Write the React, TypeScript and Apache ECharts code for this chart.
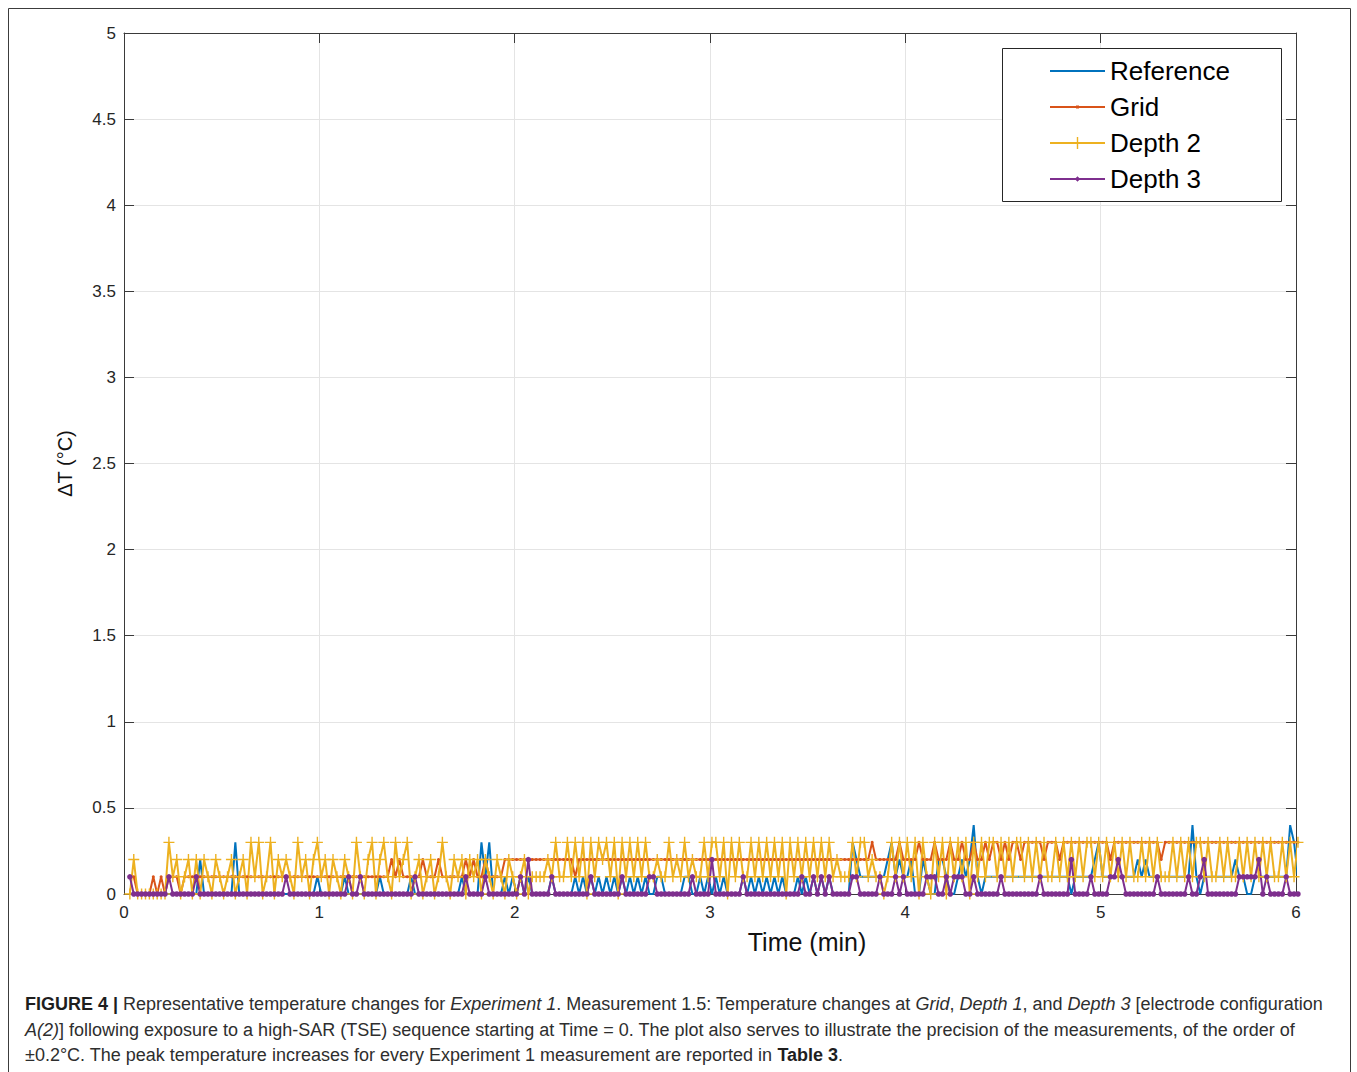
import React, { useEffect, useRef } from "react";
import * as echarts from "echarts";

// Sampling grid of the recording (minutes)
const SAMPLE_START_MIN = 0.03;
const SAMPLE_STEP_MIN = 0.02;

// ΔT readings in tenths of °C, one line per minute (50 samples each)
const referenceTenths = [
  0,0,0,0,0,0,0,0,0,0, 0,0,0,0,0,0,0,0,2,0, 0,0,0,0,0,0,0,3,0,0, 0,0,0,0,0,0,0,0,0,0, 0,0,0,0,0,0,0,0,1,0,
  0,0,0,0,0,1,0,0,0,0, 0,0,0,0,1,0,0,0,0,0, 0,0,1,0,0,0,0,0,0,0, 0,0,0,0,0,1,0,0,0,0, 3,1,3,0,0,0,1,0,1,0,
  1,0,1,0,0,0,0,0,1,0, 0,0,0,0,1,0,1,0,1,0, 1,0,1,0,1,0,1,0,1,0, 1,0,1,0,0,1,1,0,0,0, 0,0,1,1,0,0,1,0,1,0,
  1,0,1,0,0,0,0,1,0,1, 0,1,0,1,0,1,0,1,0,0, 0,1,0,1,0,1,0,1,0,1, 0,0,0,0,0,3,2,1,1,1, 1,1,1,1,2,3,1,2,1,1,
  2,0,0,2,1,0,0,2,2,1, 0,0,1,2,1,2,4,1,0,1, 1,1,1,1,1,1,1,1,1,1, 1,1,1,1,1,1,1,1,1,1, 1,0,1,1,1,1,1,2,3,1,
  1,1,1,1,1,1,1,1,2,1, 2,1,1,1,1,1,1,1,1,1, 1,1,4,1,0,1,1,1,1,1, 1,1,1,2,1,1,0,0,1,1, 1,1,1,1,1,1,1,4,3,1,
];

const gridTenths = [
  1,1,0,0,0,0,1,0,1,0, 1,1,1,0,1,1,1,1,1,1, 1,1,1,1,1,1,1,1,1,1, 1,1,1,1,1,1,1,1,1,1, 1,1,1,1,1,1,1,1,1,1,
  1,1,1,1,1,1,1,1,1,1, 1,1,1,1,1,1,1,2,1,2, 1,1,1,1,1,2,1,1,1,2, 1,1,1,1,1,1,2,1,2,1, 1,2,1,1,1,1,2,2,2,2,
  2,2,2,2,2,2,2,2,2,2, 2,2,2,2,1,2,2,2,2,2, 2,2,2,2,2,2,2,2,2,2, 2,2,2,2,2,2,2,2,2,2, 2,2,2,2,2,2,2,2,2,2,
  2,2,2,2,2,2,2,2,2,2, 2,2,2,2,2,2,2,2,2,2, 2,2,2,2,2,2,2,2,2,2, 2,2,2,2,2,2,2,2,2,2, 3,2,2,2,2,2,2,3,2,2,
  2,2,3,2,2,2,3,2,2,2, 3,2,2,3,2,2,3,2,2,3, 2,3,3,2,3,2,3,3,2,3, 3,3,3,3,2,3,3,3,2,3, 3,3,3,3,3,3,3,3,3,3,
  3,2,3,3,3,3,3,3,3,3, 3,3,3,3,2,3,3,3,3,3, 3,3,3,3,3,3,3,3,3,3, 3,3,3,3,3,3,3,3,3,3, 3,3,3,3,3,3,3,3,3,3,
];

const depth2Tenths = [
  0,2,0,0,0,0,0,0,0,0, 3,1,2,0,1,2,0,2,0,2, 1,0,2,1,0,1,2,0,1,2, 0,3,1,3,0,1,3,0,2,1, 2,1,0,3,1,2,0,2,3,1,
  2,0,2,1,0,2,1,0,3,1, 0,2,3,0,2,3,1,0,3,1, 2,3,0,1,2,0,1,2,0,1, 3,1,0,2,1,2,0,2,1,2, 0,2,1,0,2,1,0,2,1,0,
  1,2,0,1,1,1,1,2,1,3, 1,1,3,1,3,1,3,0,3,1, 3,2,3,1,3,0,3,1,3,1, 3,1,3,1,1,2,1,1,3,1, 2,1,3,1,2,1,1,3,1,3,
  3,1,3,0,3,1,3,1,1,3, 1,3,1,3,1,3,1,3,0,3, 1,3,1,3,1,3,1,3,1,3, 1,2,1,1,1,3,1,3,3,1, 2,1,1,0,1,3,1,3,1,3,
  1,3,0,3,1,0,3,1,3,0, 3,1,3,1,3,0,3,1,3,1, 3,3,1,3,1,3,1,3,3,1, 3,1,3,1,3,1,1,3,1,3, 1,3,1,3,1,3,3,1,3,1,
  3,1,3,1,3,1,3,1,1,3, 1,3,1,3,1,1,1,3,1,3, 1,3,1,3,3,1,3,1,1,3, 1,3,1,1,3,1,3,1,3,1, 3,1,3,1,1,3,1,3,1,3,
];

const depth3Tenths = [
  1,0,0,0,0,0,0,0,0,0, 1,0,0,0,0,0,0,1,0,0, 0,0,0,0,0,0,0,0,0,0, 0,0,0,0,0,0,0,0,0,0, 1,0,0,0,0,0,0,0,0,0,
  0,0,0,0,0,0,1,0,0,1, 0,0,0,0,0,0,0,0,0,0, 0,0,0,1,0,0,0,0,0,0, 0,0,0,0,0,0,1,0,0,0, 0,1,0,0,0,0,0,0,0,0,
  1,0,2,0,0,0,0,0,1,0, 0,0,0,0,0,0,0,0,1,0, 0,0,0,0,0,0,1,0,0,0, 0,0,0,1,1,0,0,0,0,0, 0,0,0,0,1,0,0,0,0,2,
  0,0,0,0,0,0,0,1,0,0, 0,0,0,0,0,0,0,0,0,0, 0,0,1,0,0,1,0,1,0,1, 0,0,0,0,0,1,1,0,0,0, 0,0,1,0,0,0,1,0,1,0,
  0,0,0,0,1,1,1,0,0,1, 0,1,1,1,0,0,1,0,0,0, 0,0,0,1,0,0,0,0,0,0, 0,0,0,1,0,0,0,0,0,0, 0,2,0,0,0,0,1,0,0,0,
  0,1,1,2,1,0,0,0,0,0, 0,0,0,1,0,0,0,0,0,0, 0,1,0,0,1,2,0,0,0,0, 0,0,0,0,1,1,1,1,1,2, 0,1,0,0,0,0,1,0,0,0,
];

const seriesNames = ["Reference", "Grid", "Depth 2", "Depth 3"];
const seriesColors = ["#0072BD", "#D95319", "#EDB120", "#7E2F8E"];

const xAxisMin = 0;
const xAxisMax = 6;
const xAxisStep = 1;
const yAxisMin = 0;
const yAxisMax = 5;
const yAxisStep = 0.5;

const captionLines = [
  "{b|FIGURE 4 |} Representative temperature changes for {i|Experiment 1}. Measurement 1.5: Temperature changes at {i|Grid}, {i|Depth 1}, and {i|Depth 3} [electrode configuration",
  "{i|A(2)}] following exposure to a high-SAR (TSE) sequence starting at Time = 0. The plot also serves to illustrate the precision of the measurements, of the order of",
  "±0.2°C. The peak temperature increases for every Experiment 1 measurement are reported in {b|Table 3}.",
];

const FONT = '"Liberation Sans", Arial, Helvetica, sans-serif';
const AXIS_COLOR = "#3a3a3a";

function toPoints(tenths: number[]) {
  return tenths.map((v, i) => [
    +(SAMPLE_START_MIN + i * SAMPLE_STEP_MIN).toFixed(2),
    v / 10,
  ]);
}

export default function App() {
  const ref = useRef<HTMLDivElement>(null);

  useEffect(() => {
    if (!ref.current) return;
    const chart = echarts.init(ref.current, undefined, { renderer: "svg" });

    const lineW = 2;
    const capSize = 18;
    const baseAxis = {
      axisLine: { show: true, onZero: false, lineStyle: { color: AXIS_COLOR, width: 1 } },
      axisTick: { show: true, inside: true, length: 10, lineStyle: { color: AXIS_COLOR, width: 1 } },
    };

    const option: any = {
      animation: false,
      backgroundColor: "#ffffff",
      grid: { left: 124, top: 33, width: 1172, height: 861, containLabel: false },
      xAxis: [
        {
          type: "value",
          min: xAxisMin,
          max: xAxisMax,
          interval: xAxisStep,
          position: "bottom",
          ...baseAxis,
          axisLabel: { color: "#262626", fontSize: 17, fontFamily: FONT, margin: 10 },
          splitLine: { show: true, lineStyle: { color: "#e4e4e4", width: 1 } },
          name: "Time (min)",
          nameLocation: "middle",
          nameGap: 35,
          nameTextStyle: { color: "#111", fontSize: 25, fontFamily: FONT, padding: [0, 0, 0, 194] },
        },
        {
          type: "value",
          min: xAxisMin,
          max: xAxisMax,
          interval: xAxisStep,
          position: "top",
          ...baseAxis,
          axisLabel: { show: false },
          splitLine: { show: false },
        },
      ],
      yAxis: [
        {
          type: "value",
          min: yAxisMin,
          max: yAxisMax,
          interval: yAxisStep,
          position: "left",
          ...baseAxis,
          axisLabel: { color: "#262626", fontSize: 17, fontFamily: FONT, margin: 8 },
          splitLine: { show: true, lineStyle: { color: "#e4e4e4", width: 1 } },
          name: "ΔT (°C)",
          nameLocation: "middle",
          nameGap: 49,
          nameRotate: 90,
          nameTextStyle: { color: "#111", fontSize: 20, fontFamily: FONT },
        },
        {
          type: "value",
          min: yAxisMin,
          max: yAxisMax,
          interval: yAxisStep,
          position: "right",
          ...baseAxis,
          axisLabel: { show: false },
          splitLine: { show: false },
        },
      ],
      legend: {
        orient: "vertical",
        left: 1050,
        top: 57,
        padding: 0,
        itemWidth: 55,
        itemHeight: 14,
        itemGap: 8,
        z: 10,
        symbolKeepAspect: true,
        itemStyle: { borderWidth: 0 },
        textStyle: { fontSize: 26, color: "#000", fontFamily: FONT, lineHeight: 28 },
        data: [
          { name: seriesNames[0], icon: "path://M0,6.1H55V7.9H0Z", itemStyle: { color: seriesColors[0] } },
          { name: seriesNames[1], icon: "path://M0,6.1H55V7.9H0Z M26,5.4H29V8.6H26Z", itemStyle: { color: seriesColors[1] } },
          { name: seriesNames[2], icon: "path://M0,6.1H55V7.9H0Z M26.8,1H28.2V13H26.8Z", itemStyle: { color: seriesColors[2] } },
          { name: seriesNames[3], icon: "path://M0,6.1H55V7.9H0Z M27.5,4.3L30.2,7L27.5,9.7L24.8,7Z", itemStyle: { color: seriesColors[3] } },
        ],
      },
      graphic: [
        {
          type: "rect",
          z: 5,
          silent: true,
          shape: { x: 1002.5, y: 48.5, width: 279, height: 153 },
          style: { fill: "#ffffff", stroke: "#262626", lineWidth: 1 },
        },
        {
          type: "rect",
          z: 5,
          silent: true,
          shape: { x: 8.5, y: 8.5, width: 1342, height: 1100 },
          style: { fill: "none", stroke: "#3c3c3c", lineWidth: 1 },
        },
        ...captionLines.map((line, idx) => ({
          type: "text",
          z: 5,
          silent: true,
          x: 25,
          y: 1004 + idx * 25.5,
          style: {
            text: line,
            fill: "#2e2e2e",
            fontSize: capSize,
            fontFamily: FONT,
            verticalAlign: "middle",
            align: "left",
            rich: {
              b: { fontWeight: "bold", fontSize: capSize, fontFamily: FONT, fill: "#1e1e1e" },
              i: { fontStyle: "italic", fontSize: capSize, fontFamily: FONT, fill: "#2e2e2e" },
            },
          },
        })),
      ],
      series: [
        {
          name: seriesNames[0],
          type: "line",
          clip: false,
          data: toPoints(referenceTenths),
          symbol: "none",
          lineStyle: { color: seriesColors[0], width: lineW },
          itemStyle: { color: seriesColors[0] },
          z: 2,
        },
        {
          name: seriesNames[1],
          type: "line",
          clip: false,
          data: toPoints(gridTenths),
          symbol: "circle",
          symbolSize: 3,
          lineStyle: { color: seriesColors[1], width: lineW },
          itemStyle: { color: seriesColors[1], borderWidth: 0 },
          z: 2,
        },
        {
          name: seriesNames[2],
          type: "line",
          clip: false,
          data: toPoints(depth2Tenths),
          symbol: "path://M5,0L5,10M0,5L10,5",
          symbolSize: 11,
          lineStyle: { color: seriesColors[2], width: lineW },
          itemStyle: { color: seriesColors[2], borderColor: seriesColors[2], borderWidth: 1.4 },
          z: 2,
        },
        {
          name: seriesNames[3],
          type: "line",
          clip: false,
          data: toPoints(depth3Tenths),
          symbol: "circle",
          symbolSize: 5.5,
          lineStyle: { color: seriesColors[3], width: lineW },
          itemStyle: { color: seriesColors[3], borderWidth: 0 },
          z: 2,
        },
      ],
    };

    chart.setOption(option);
    return () => chart.dispose();
  }, []);

  return (
    <div
      ref={ref}
      style={{ position: "absolute", left: 0, top: 0, width: 1357, height: 1072, background: "#fff" }}
    />
  );
}
